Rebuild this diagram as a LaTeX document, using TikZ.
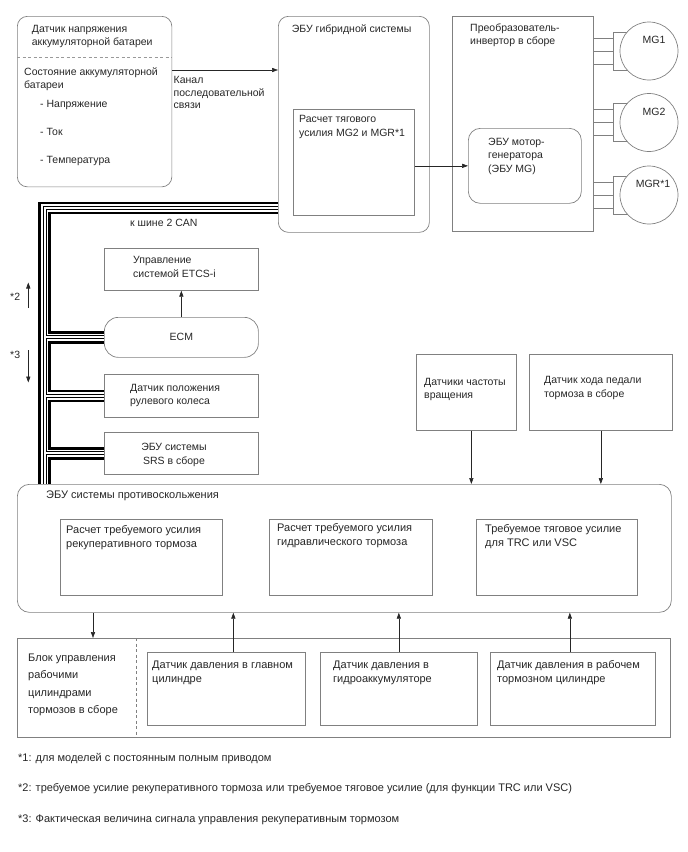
\documentclass[tikz,border=0pt]{standalone}
\usepackage{fontspec}
\setmainfont{Liberation Sans}
\usetikzlibrary{positioning,arrows.meta,backgrounds,calc}

\begin{document}
\begin{tikzpicture}[x=1pt,y=-1pt,font=\fontsize{10.5}{13.5}\selectfont]
\def\cw{154}            % width of the CAN column boxes
\tikzset{
  box/.style={draw=black!50, line width=0.7pt, anchor=north west, inner sep=0pt},
  rbox/.style={box, rounded corners=10pt},
  txt/.style={anchor=north west, inner sep=0pt, align=left, text=black!85},
  txtl/.style={txt, font=\fontsize{11}{14}\selectfont},
  lnk/.style={draw=black!50, line width=0.7pt},
  arr/.style={-{Triangle[length=6pt,width=4.2pt]}, line width=0.6pt, black!85},
  motor/.style={circle, draw=black!50, line width=0.7pt, fill=white, minimum size=58pt, inner sep=0pt},
}
\useasboundingbox (0,0) rectangle (688,852);

% =====================================================================
% Top row: battery sensor, hybrid ECU, inverter, motors
% =====================================================================
\node[rbox, minimum width=154.5, minimum height=170.5] (batt) at (17,16) {};
\node[txt] (battT) at (31.7,25) {Датчик напряжения\\аккумуляторной батареи};
\coordinate (sep) at (0,57.5);
\draw[black!40, line width=0.7pt, dash pattern=on 3pt off 2.5pt] (batt.west |- sep) -- (batt.east |- sep);
\node[txt] (battS) at (24,67.5) {Состояние аккумуляторной\\батареи};
\node[txt] (battV) at (40,100.5) {- Напряжение};
\node[txt] (battI) at (40,128.5) {- Ток};
\node[txt] (battK) at (40,156.5) {- Температура};

\node[rbox, minimum width=151, minimum height=216] (hyb) at (278,16) {};
\node[txt] (hybT) at (291.7,25) {ЭБУ гибридной системы};
\node[box, minimum width=121, minimum height=106] (calc) at (293,109) {};
\node[txt] (calcT) at (299,115.5) {Расчет тягового\\усилия MG2 и MGR*1};

\coordinate (ser) at (0,70);
\draw[arr] (batt.east |- ser) -- (hyb.west |- ser);
\node[txt, font=\fontsize{10.5}{12.5}\selectfont] (serT) at (173.5,76.5) {Канал\\последовательной\\связи};

\node[box, minimum width=141, minimum height=215] (inv) at (452,16) {};
\node[txt] (invT) at (470,23.5) {Преобразователь-\\инвертор в сборе};
\node[rbox, rounded corners=12pt, minimum width=113, minimum height=75] (mgecu) at (468,128) {};
\node[txt] (mgecuT) at (488,137.5) {ЭБУ мотор-\\генератора\\(ЭБУ MG)};
\draw[arr] (calc.east |- mgecu.west) -- (mgecu.west);

\node[motor] (mg1) at (649,51) {};
\node[motor] (mg2) at (649,122.5) {};
\node[motor] (mgr) at (649,195) {};
\node[anchor=base, inner sep=0pt, text=black!85] (mg1T) at (654,43) {MG1};
\node[anchor=base, inner sep=0pt, text=black!85] (mg2T) at (654,115) {MG2};
\node[anchor=base, inner sep=0pt, text=black!85] (mgrT) at (653,187) {MGR*1};
\begin{scope}[on background layer]
  \foreach \m in {mg1,mg2,mgr}{
    \draw[lnk] ($(inv.east |- \m)+(0,-13)$) -- ++(20,0)
               (inv.east |- \m) -- ++(20,0)
               ($(inv.east |- \m)+(0,13)$) -- ++(20,0);
    \draw[lnk] ($(\m.center)+(0,-19)$) -| ($(inv.east |- \m)+(20,19)$) -- ($(\m.center)+(0,19)$);
  }
\end{scope}

% =====================================================================
% CAN column
% =====================================================================
\node[txt] (canT) at (130,218.5) {к шине 2 CAN};
\node[box, minimum width=\cw, minimum height=42] (etcs) at (104,248) {};
\node[txt] (etcsT) at (133,256.5) {Управление\\системой ETCS-i};
\node[rbox, rounded corners=14pt, minimum width=\cw, minimum height=40, text=black!85] (ecm) at (104,317) {ECM};
\node[box, minimum width=\cw, minimum height=43] (steer) at (104,374) {};
\node[txt] (steerT) at (130,384) {Датчик положения\\рулевого колеса};
\node[box, minimum width=\cw, minimum height=42] (srs) at (104,432) {};
\node[txt, anchor=north, align=center] (srsT) at (174,443) {ЭБУ системы\\SRS в сборе};
\draw[arr] (ecm.north) -- (etcs.south);

% signal direction marks
\coordinate (up2) at (28.3,308);
\coordinate (dn3) at (28.3,350);
\node[txt] (s2) at (10,292.5) {*2};
\node[txt] (s3) at (10,350.5) {*3};
\draw[arr] (up2) -- ++(0,-25.5);
\draw[arr] (dn3) -- ++(0,32.5);

% =====================================================================
% Wheel speed and pedal sensors
% =====================================================================
\node[box, minimum width=100, minimum height=76] (speed) at (416,354) {};
\node[txt, font=\fontsize{10.5}{12.5}\selectfont] (speedT) at (424,378.5) {Датчики частоты\\вращения};
\node[box, minimum width=143, minimum height=76] (pedal) at (529,354) {};
\node[txt] (pedalT) at (544,376.5) {Датчик хода педали\\тормоза в сборе};

% =====================================================================
% Skid control ECU
% =====================================================================
\node[rbox, rounded corners=12pt, minimum width=654, minimum height=128] (skid) at (17,484) {};
\node[txtl] (skidT) at (46,490.5) {ЭБУ системы противоскольжения};
\node[box, minimum width=162, minimum height=76] (rgn) at (60,519) {};
\node[txtl] (rgnT) at (66,525) {Расчет требуемого усилия\\рекуперативного тормоза};
\node[box, minimum width=163, minimum height=76] (hyd) at (269,519) {};
\node[txtl] (hydT) at (277,523) {Расчет требуемого усилия\\гидравлического тормоза};
\node[box, minimum width=161, minimum height=76] (trc) at (476,519) {};
\node[txtl] (trcT) at (485,524.5) {Требуемое тяговое усилие\\для TRC или VSC};
\draw[arr] ([xshift=5pt]speed.south) -- ([xshift=5pt]speed.south |- skid.north);
\draw[arr] (pedal.south) -- (pedal.south |- skid.north);

% =====================================================================
% Brake actuator and pressure sensors
% =====================================================================
\node[box, minimum width=653, minimum height=99] (act) at (17,638) {};
\coordinate (dv) at (136,0);
\draw[black!50, line width=0.7pt, dash pattern=on 3pt off 2.5pt] (dv |- act.north) -- (dv |- act.south);
\node[txtl, font=\fontsize{11}{17.5}\selectfont] (actT) at (28,653.5) {Блок управления\\рабочими\\цилиндрами\\тормозов в сборе};
\node[box, minimum width=158, minimum height=73] (mcyl) at (147,652) {};
\node[txtl] (mcylT) at (152,660.5) {Датчик давления в главном\\цилиндре};
\node[box, minimum width=157, minimum height=73] (accu) at (320,652) {};
\node[txtl] (accuT) at (333,660.5) {Датчик давления в\\гидроаккумуляторе};
\node[box, minimum width=165, minimum height=73] (wcyl) at (490,652) {};
\node[txtl] (wcylT) at (497,660.5) {Датчик давления в рабочем\\тормозном цилиндре};
\coordinate (dn) at (93,0);
\draw[arr] (dn |- skid.south) -- (dn |- act.north);
\draw[arr] ([xshift=7pt]mcyl.north) -- ([xshift=7pt]mcyl.north |- skid.south);
\draw[arr] (accu.north) -- (accu.north |- skid.south);
\draw[arr] ([xshift=-3pt]wcyl.north) -- ([xshift=-3pt]wcyl.north |- skid.south);

% =====================================================================
% CAN bus (drawn behind the boxes)
% =====================================================================
\coordinate (busTL) at (44.5,208);
\begin{scope}[on background layer]
  \foreach \w/\c in {12.3/black, 7.7/white, 4/black, 2/white}{
    \draw[line width=\w pt, \c] (hyb.west |- busTL) -- (busTL) -- (busTL |- skid.north)
      (busTL |- ecm.west) -- (ecm.west)
      (busTL |- steer.west) -- (steer.west)
      (busTL |- srs.west) -- (srs.west);
  }
\end{scope}

% =====================================================================
% Notes
% =====================================================================
\node[txtl] (n1) at (18,753.5) {*1: для моделей с постоянным полным приводом};
\node[txtl] (n2) at (18,783.5) {*2: требуемое усилие рекуперативного тормоза или требуемое тяговое усилие (для функции TRC или VSC)};
\node[txtl] (n3) at (18,814.5) {*3: Фактическая величина сигнала управления рекуперативным тормозом};

\end{tikzpicture}
\end{document}
